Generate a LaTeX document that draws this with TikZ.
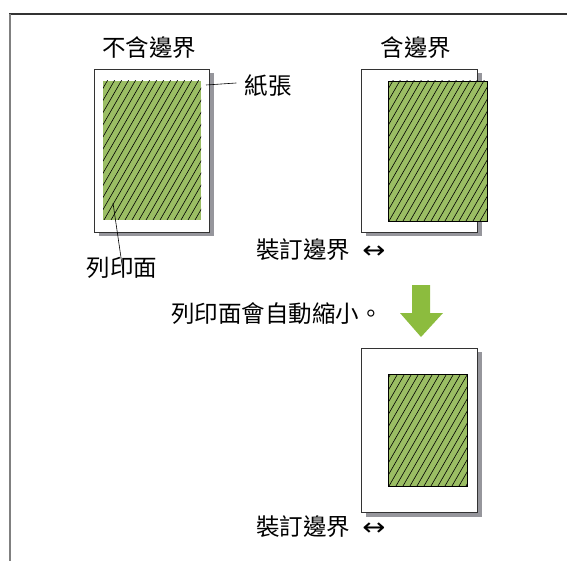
\documentclass[tikz,border=0pt]{standalone}
\usepackage{fontspec}
\setmainfont{Noto Sans CJK TC}
\newfontfamily\symfont{DejaVu Sans}[FakeStretch=1.15]
\definecolor{areagreen}{RGB}{155,190,100}
\definecolor{arrowgreen}{RGB}{140,188,62}
\definecolor{shadowgray}{RGB}{150,150,156}
% hatching of a printed area: x1 y1 x2 y2
\newcommand{\hatcharea}[4]{%
  \begin{scope}
    \clip (#1,#2) rectangle (#3,#4);
    \foreach \i in {-160,-153,...,115}
      \draw[line width=0.6pt] (#1+\i,#4) -- ++(150,-260);
  \end{scope}}
\newcommand{\lrarrow}{\hspace{12pt}{\symfont\fontsize{24}{24}\selectfont ↔}}

\begin{document}
\begin{tikzpicture}[x=1pt, y=-1pt]
  \tikzstyle{lbl} = [inner sep=0pt, font=\fontsize{23.5}{26}\selectfont]
  \tikzstyle{sheet} = [draw=black!80, fill=white, line width=0.8pt]
  \tikzstyle{shadow} = [fill=shadowgray]
  \tikzstyle{area} = [fill=areagreen]
  \useasboundingbox (0,0) rectangle (567,561);
  % frame
  \draw[black!80, line width=1.4pt] (9,14) -- (567,14);
  \draw[black!50, line width=1.4pt] (10,14) -- (10,561);

  % page without margin
  \fill[shadow] (99,73) rectangle (214,236);
  \draw[sheet] (94,69) rectangle (209,232);
  \fill[area] (103,81) rectangle (201,220);
  \hatcharea{103}{81}{201}{220}

  % page with margin
  \fill[shadow] (366,73) rectangle (482,236);
  \draw[sheet] (361,69) rectangle (477,232);
  \fill[area] (388,81) rectangle (487,221);
  \hatcharea{388}{81}{487}{221}
  \draw[line width=0.8pt] (388,81) rectangle (487,221);

  % reduced page
  \fill[shadow] (366,352) rectangle (482,517);
  \draw[sheet] (361,348) rectangle (477,512);
  \fill[area] (388,374) rectangle (467,486);
  \hatcharea{388}{374}{467}{486}
  \draw[line width=0.8pt] (388,374) rectangle (467,486);

  % labels
  \node[lbl] (nomargin) at (149,48) {不含邊界};
  \node[lbl] (margin) at (416,48) {含邊界};
  \node[lbl] (paper) at (268,86) {紙張};
  \node[lbl] (print) at (122,268) {列印面};
  \node[lbl] (bind1) at (321,250) {裝訂邊界\lrarrow};
  \node[lbl] (shrink) at (277,314) {列印面會自動縮小。};
  \node[lbl] (bind2) at (321,527) {裝訂邊界\lrarrow};

  % leader lines
  \coordinate (paperpt) at (206,85);
  \coordinate (printpt) at (113,203);
  \draw[line width=0.6pt] (paperpt) -- ([xshift=-8pt, yshift=3pt]paper.west);
  \draw[line width=0.6pt] (printpt) -- ([xshift=1pt, yshift=-14pt]print.north);

  % green arrow
  \fill[arrowgreen] (412,285) -- (430,285) -- (430,313) -- (443,313)
    -- (421,337) -- (400,313) -- (412,313) -- cycle;
\end{tikzpicture}
\end{document}
